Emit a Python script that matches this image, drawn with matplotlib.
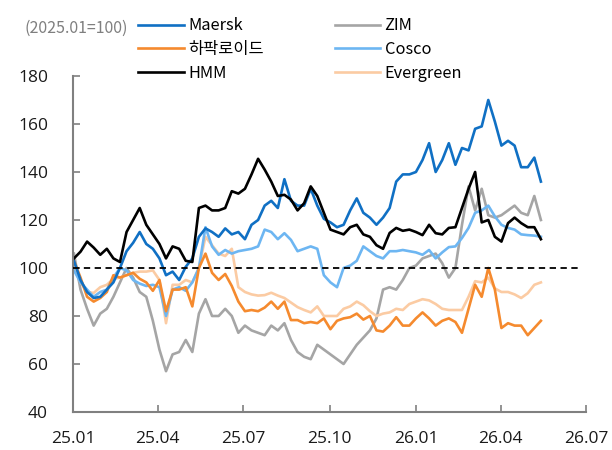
import matplotlib
matplotlib.use("Agg")
import matplotlib.pyplot as plt
import pandas as pd

plt.rcParams['font.family'] = ['Noto Sans CJK KR', 'DejaVu Sans']

# weekly observations, starting 2025-01-02
start_date = "2025-01-02"
n_points = 72

maersk = [103, 95, 90, 87.5, 88, 91, 94, 100, 107, 110.5, 115, 110, 108, 104, 97, 98.5, 95, 100.5,
          104, 113, 116.5, 115, 113, 116.5, 114, 115, 112, 118, 120, 126, 128, 125, 137, 128, 126, 126,
          133, 126, 120.5, 119, 117, 118, 124, 129, 123, 121, 118, 121, 125, 136, 139, 139, 140, 145,
          152, 140, 145, 152, 143, 150, 149, 158, 159, 170, 161, 151, 153, 151, 142, 142, 146, 136]
hapag = [103, 96, 88, 86, 87.5, 90, 97, 96, 97, 98, 95.5, 94, 90.5, 95, 82, 91, 91, 92, 84, 100,
         106, 98, 95, 97.5, 92.5, 86, 82, 82.5, 82, 83.5, 86, 83, 86, 78.3, 78.3, 77, 77.5, 77, 79,
         74.5, 78, 79, 79.5, 81, 78.5, 80, 74, 73.5, 76, 79.5, 76, 76, 79, 81.5, 79, 76, 78, 79, 77.5,
         73, 83, 93, 88, 100, 91, 75, 77, 76, 76, 72, 75, 78]
hmm = [104, 106.8, 111, 108.5, 105.5, 108, 104, 102.5, 115, 120, 125, 118, 114, 110, 104, 109, 108,
       103, 102.5, 125, 126, 124, 124, 125, 132, 131, 133, 139, 145.5, 141, 136, 130, 130.5, 128.5,
       124, 127, 134, 130, 123, 116, 115, 114, 117, 118, 114, 113, 109.5, 108, 114.6, 116.7, 115.5,
       116, 115, 113.7, 118, 114.5, 114, 116.7, 117, 125, 133, 140, 119, 120, 113, 111, 118.7, 121,
       118.7, 117, 117, 112]
zim = [106, 91, 83, 76, 81, 83, 88, 94, 100, 96, 90, 88, 78, 66, 57, 64, 65, 70, 65, 81, 87, 80, 80,
       83, 80, 73, 76, 74, 73, 72, 76, 74, 77, 70, 65, 63, 62, 68, 66, 64, 62, 60, 64, 68, 71, 74, 79,
       91, 92, 91, 95, 100, 101, 104, 105, 106, 102, 96, 100, 118, 134, 124, 133, 122, 121, 122, 124,
       126, 123, 122, 130, 120]
cosco = [99, 94, 91, 88, 90, 91, 96, 100, 99, 95, 93.5, 92.5, 93, 92, 80, 91, 92, 90.5, 94, 100, 117,
         109, 105.5, 107.5, 106, 107, 107.5, 108, 109, 116, 115, 112, 114.5, 111.7, 107, 108, 109, 108,
         97, 94, 92, 100, 101, 103, 109, 107, 105, 104, 107, 107, 107.5, 107, 106.5, 105.5, 107.5, 104,
         106.5, 108.7, 109, 112.5, 116.7, 123, 124, 126, 121.5, 118, 116.7, 116, 114, 113.7, 113.5, 113]
evergreen = [100, 94, 90, 89.6, 92, 93, 95.5, 96, 97, 98, 98.5, 98.5, 99, 95, 77, 93, 93, 95, 94, 100,
             113, 109.5, 106, 105, 108, 92, 90, 89, 88.5, 88.7, 89.7, 88.5, 87.5, 85.6, 83.7, 82.5, 81.5,
             84, 80, 80, 80, 83, 84, 86, 84.5, 82, 80, 81, 81.5, 83, 82.5, 85, 86, 87, 86.5, 85, 83, 82.5,
             82.5, 82.5, 88, 94.5, 94, 96, 91.5, 90, 90, 89, 87.5, 89.5, 93, 94]

tick_dates = ["2025-01-01", "2025-04-01", "2025-07-01", "2025-10-01", "2026-01-01", "2026-04-01", "2026-07-01"]
tick_labels = ["25.01", "25.04", "25.07", "25.10", "26.01", "26.04", "26.07"]
y_ticks = [40, 60, 80, 100, 120, 140, 160, 180]

dates = pd.date_range(start_date, periods=n_points, freq="7D")

fig = plt.figure(figsize=(6.12, 4.5), dpi=100)
ax = fig.add_axes([73/612, 1-412/450, (586-73)/612, (412-76)/450])

series = [
    ("ZIM", zim, "#A5A5A5"),
    ("Evergreen", evergreen, "#FBCBA3"),
    ("Cosco", cosco, "#6DB6F2"),
    ("하팍로이드", hapag, "#F58A2E"),
    ("Maersk", maersk, "#1070C4"),
    ("HMM", hmm, "#000000"),
]
handles = {}
for name, vals, col in series:
    (ln,) = ax.plot(dates, vals, color=col, lw=1.9, solid_joinstyle="round")
    handles[name] = ln

ax.axhline(100, xmin=0, xmax=0.99, color="black", lw=1.3, ls=(0, (3.5, 2.5)), zorder=5)

ax.set_ylim(40, 180)
ax.set_yticks(y_ticks)
ax.set_xlim(pd.Timestamp(tick_dates[0]), pd.Timestamp(tick_dates[-1]))
ax.set_xticks([pd.Timestamp(d) for d in tick_dates])
ax.set_xticklabels(tick_labels)

for s in ["top", "right"]:
    ax.spines[s].set_visible(False)
for s in ["left", "bottom"]:
    ax.spines[s].set_color("#808080")
    ax.spines[s].set_linewidth(1.5)
ax.tick_params(direction="in", length=5, width=1.2, color="#808080", labelsize=12.5, labelcolor="#1a1a1a")
ax.tick_params(axis="y", pad=18)
ax.tick_params(axis="x", pad=14)
for lab in ax.get_xticklabels() + ax.get_yticklabels():
    lab.set_fontfamily(["Open Sans", "DejaVu Sans"])

order = ["Maersk", "하팍로이드", "HMM", "ZIM", "Cosco", "Evergreen"]
fig.legend([handles[k] for k in order], order, loc="upper left", ncol=2,
           bbox_to_anchor=(127/612, 1-6/450), frameon=False, fontsize=11.8,
           handlelength=2.75, handletextpad=0.3, columnspacing=4.3, labelspacing=0.4,
           borderpad=0.2)

fig.text(25/612, 1-28/450, "(2025.01=100)", color="#7F7F7F", fontsize=11.5, va="center", ha="left")

fig.savefig("out.png", dpi=100)
